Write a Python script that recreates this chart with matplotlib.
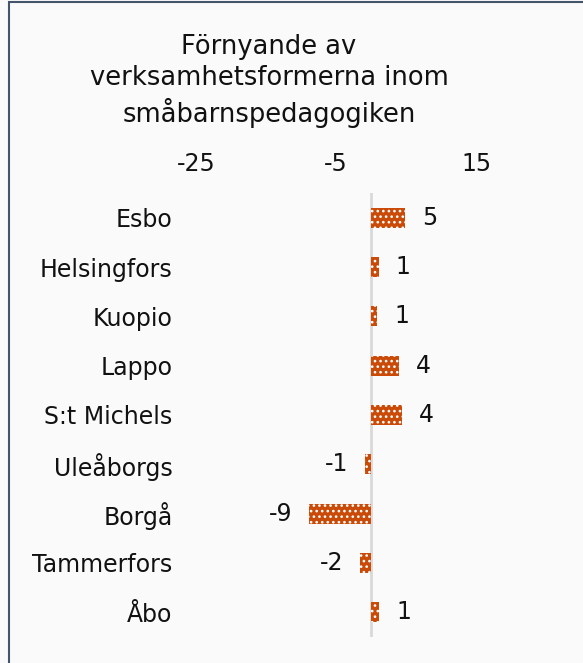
import matplotlib
matplotlib.use("Agg")
import matplotlib.pyplot as plt
from matplotlib.patches import Rectangle

title = "Förnyande av\nverksamhetsformerna inom\nsmåbarnspedagogiken"
categories = ["Esbo", "Helsingfors", "Kuopio", "Lappo", "S:t Michels",
              "Uleåborgs", "Borgå", "Tammerfors", "Åbo"]
values = [4.9, 1.1, 0.9, 4.0, 4.4, -0.9, -8.9, -1.6, 1.2]
xticks = [-25, -5, 15]

plt.rcParams['font.family'] = ['DejaVu Sans']
plt.rcParams['hatch.linewidth'] = 1.1

W, H = 583, 663
fig = plt.figure(figsize=(W / 100, H / 100), dpi=100)
bg = '#FAFAFA'
fig.patch.set_facecolor(bg)

left, right, top, bottom = 196, 546, 193, 637
ax = fig.add_axes([left / W, 1 - bottom / H, (right - left) / W, (bottom - top) / H])
ax.set_facecolor(bg)

ypos = list(range(len(categories)))
bar_color = '#CA4A08'
ax.barh(ypos, values, height=0.41, color=bar_color, edgecolor='white',
        linewidth=0, hatch='...', zorder=2)

ax.set_xlim(-25, 25)
ax.set_ylim(len(categories) - 0.5, -0.5)
ax.axvline(0, color='#D9D9D9', linewidth=2, zorder=1)

txt = '#111111'
ax.set_yticks(ypos)
ax.set_yticklabels(categories, fontsize=17, color=txt)
ax.set_xticks(xticks)
ax.set_xticklabels([str(t) for t in xticks], fontsize=17, color=txt)
ax.xaxis.tick_top()
ax.tick_params(axis='x', length=0, pad=12)
ax.tick_params(axis='y', length=0, pad=17)
for s in ax.spines.values():
    s.set_visible(False)

for y, v in zip(ypos, values):
    if v >= 0:
        ax.annotate(f"{v:.0f}", (v, y), xytext=(12, 0), textcoords='offset points',
                    ha='left', va='center', fontsize=17, color=txt)
    else:
        ax.annotate(f"{v:.0f}", (v, y), xytext=(-12, 0), textcoords='offset points',
                    ha='right', va='center', fontsize=17, color=txt)

fig.text(269 / W, 1 - 81 / H, title, ha='center', va='center', fontsize=18.5,
         linespacing=1.28, color=txt)

fig.patches.append(Rectangle((9 / W, -0.5), 2.0, 1.5 - 2 / H, transform=fig.transFigure,
                             fill=False, edgecolor='#44546A', linewidth=1.5))

fig.savefig("out.png", dpi=100, facecolor=bg)
